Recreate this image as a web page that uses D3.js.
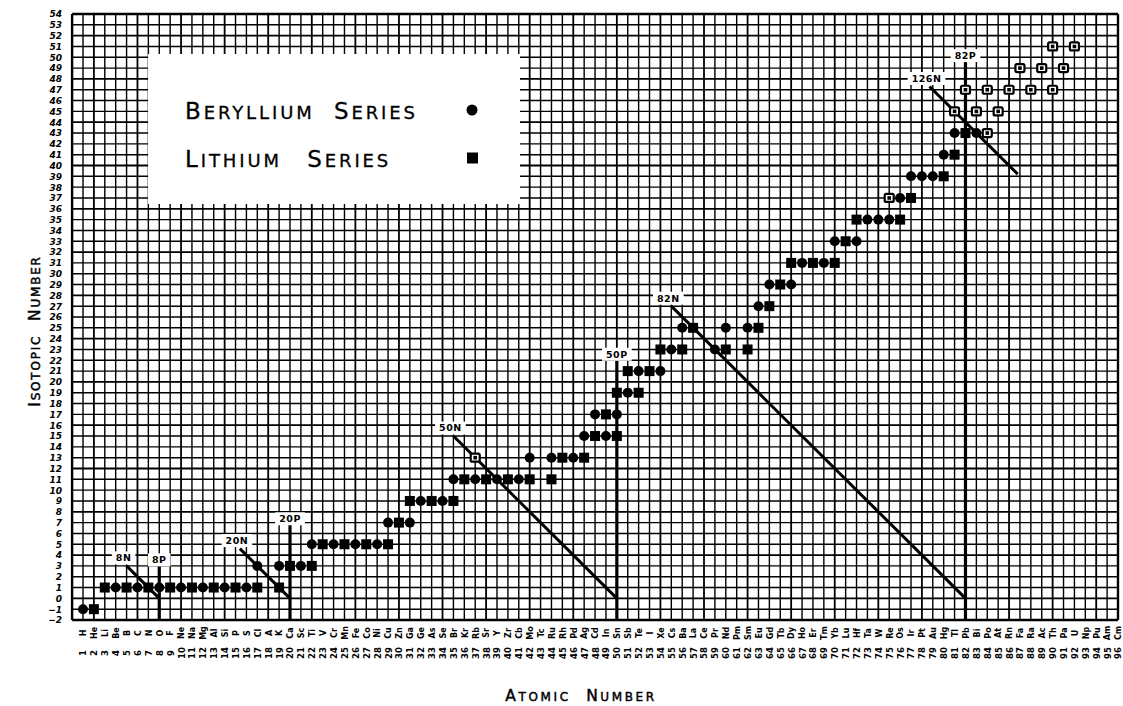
<!DOCTYPE html>
<html>
<head>
<meta charset="utf-8">
<script src="https://cdn.jsdelivr.net/npm/d3@7/dist/d3.min.js"></script>
<style>
  html, body { margin: 0; padding: 0; background: #fff; }
  svg { display: block; }
  .lbl { font-family: "DejaVu Sans", sans-serif; font-weight: bold; }
</style>
</head>
<body>
<svg id="chart" width="1123" height="706"></svg>
<script>
// element symbols, index = atomic number - 1 (as lettered on the sheet)
var elements = ["H","He","Li","Be","B","C","N","O","F","Ne","Na","Mg","Al","Si","P","S","Cl","A","K","Ca",
  "Sc","Ti","V","Cr","Mn","Fe","Co","Ni","Cu","Zn","Ga","Ge","As","Se","Br","Kr","Rb","Sr","Y","Zr",
  "Cb","Mo","Tc","Ru","Rh","Pd","Ag","Cd","In","Sn","Sb","Te","I","Xe","Cs","Ba","La","Ce","Pr","Nd",
  "Pm","Sm","Eu","Gd","Tb","Dy","Ho","Er","Tm","Yb","Lu","Hf","Ta","W","Re","Os","Ir","Pt","Au","Hg",
  "Tl","Pb","Bi","Po","At","Rn","Fa","Ra","Ac","Th","Pa","U","Np","Pu","Am","Cm"];
var atomicTicks = d3.range(1, 97);
var isotopicTicks = d3.range(-2, 55);

// [atomic number, isotopic number]
var berylliumSeries = [[1,-1],[4,1],[6,1],[8,1],[10,1],[12,1],[14,1],[16,1],[17,3],[19,3],[21,3],
  [22,5],[24,5],[26,5],[28,5],[29,7],[31,7],[32,9],[34,9],[35,11],[37,11],[39,11],[41,11],[42,13],
  [44,13],[46,13],[47,15],[49,15],[48,17],[50,17],[51,19],[52,21],[54,21],[55,23],[56,25],[59,23],
  [60,25],[62,25],[63,27],[64,29],[66,29],[67,31],[69,31],[70,33],[72,33],[73,35],[74,35],[75,35],
  [76,37],[77,39],[78,39],[79,39],[80,41],[81,43],[83,43]];
var lithiumSeries = [[2,-1],[3,1],[5,1],[7,1],[9,1],[11,1],[13,1],[15,1],[17,1],[19,1],[20,3],[22,3],
  [23,5],[25,5],[27,5],[29,5],[30,7],[31,9],[33,9],[35,9],[36,11],[38,11],[40,11],[42,11],[44,11],
  [45,13],[47,13],[48,15],[50,15],[49,17],[50,19],[52,19],[51,21],[53,21],[54,23],[56,23],[57,25],
  [60,23],[62,23],[63,25],[64,27],[65,29],[66,31],[68,31],[70,31],[71,33],[72,35],[76,35],[77,37],
  [80,39],[81,41],[82,43]];
var openPoints = [[37,13],[75,37],[84,43],[81,45],[83,45],[85,45],[82,47],[84,47],[86,47],[88,47],
  [90,47],[87,49],[89,49],[91,49],[90,51],[92,51]];

// closed-shell lines: neutron lines run along I = N - Z
var neutronLines = [
  {label:"8N", n:8, z0:5, z1:8},
  {label:"20N", n:20, z0:15.4, z1:20},
  {label:"50N", n:50, z0:35, z1:50},
  {label:"82N", n:82, z0:55, z1:82},
  {label:"126N", n:126, z0:78.7, z1:86.8}
];
var protonLines = [
  {label:"8P", z:8, top:3},
  {label:"20P", z:20, top:6.8},
  {label:"50P", z:50, top:22},
  {label:"82P", z:82, top:49.6}
];

var svg = d3.select("#chart");
var x = d3.scaleLinear().domain([1, 96]).range([83, 1118]);
var y = d3.scaleLinear().domain([-2, 54]).range([620, 14]);

// graph paper
var grid = svg.append("g").attr("stroke", "#000");
grid.selectAll("line.v").data(d3.range(0, 97)).join("line")
  .attr("class", "v")
  .attr("x1", d => x(d)).attr("x2", d => x(d))
  .attr("y1", y(54)).attr("y2", y(-2))
  .attr("stroke-width", d => (d === 0 || d === 96) ? 2.4 : ((d - 2) % 4 === 0 ? 1.8 : 1.4));
grid.selectAll("line.h").data(d3.range(-2, 55)).join("line")
  .attr("class", "h")
  .attr("x1", x(0)).attr("x2", x(96))
  .attr("y1", d => y(d)).attr("y2", d => y(d))
  .attr("stroke-width", d => (d === -2 || d === 54) ? 2.4 : (d % 4 === 0 ? 1.8 : 1.4));

// legend panel over the paper
var legend = svg.append("g");
legend.append("rect").attr("x", 148).attr("y", 54).attr("width", 372).attr("height", 150).attr("fill", "#fff");

function smallCaps(sel, words, big, small) {
  words.forEach(function(w, i) {
    sel.append("tspan").attr("font-size", big).text((i ? " " : "") + w[0]);
    sel.append("tspan").attr("font-size", small).text(w.slice(1));
  });
}
var lt1 = legend.append("text").attr("x", 185).attr("y", 119)
  .attr("font-family", "DejaVu Sans, sans-serif").attr("letter-spacing", 2.9).attr("word-spacing", 9)
  .attr("stroke", "#000").attr("stroke-width", 0.3);
smallCaps(lt1, ["BERYLLIUM", "SERIES"], 23, 18);
var lt2 = legend.append("text").attr("x", 185).attr("y", 167)
  .attr("font-family", "DejaVu Sans, sans-serif").attr("letter-spacing", 2.9).attr("word-spacing", 15)
  .attr("stroke", "#000").attr("stroke-width", 0.3);
smallCaps(lt2, ["LITHIUM", "SERIES"], 23, 18);
legend.append("circle").attr("cx", 472).attr("cy", 110).attr("r", 5.5).attr("fill", "#000");
legend.append("rect").attr("x", 467).attr("y", 152.5).attr("width", 11).attr("height", 11).attr("fill", "#000");

// closed shell lines
var shells = svg.append("g");
shells.selectAll("line.n").data(neutronLines).join("line")
  .attr("x1", d => x(d.z0)).attr("y1", d => y(d.n - d.z0))
  .attr("x2", d => x(d.z1)).attr("y2", d => y(d.n - d.z1))
  .attr("stroke", "#000").attr("stroke-width", 3);
shells.selectAll("line.p").data(protonLines).join("line")
  .attr("x1", d => x(d.z)).attr("x2", d => x(d.z))
  .attr("y1", d => y(d.top)).attr("y2", y(-2))
  .attr("stroke", "#000").attr("stroke-width", 3.2);

// points
var marks = svg.append("g");
marks.selectAll("circle").data(berylliumSeries).join("circle")
  .attr("cx", d => x(d[0])).attr("cy", d => y(d[1])).attr("r", 5).attr("fill", "#000");
marks.selectAll("rect.li").data(lithiumSeries).join("rect")
  .attr("class", "li")
  .attr("x", d => x(d[0]) - 5).attr("y", d => y(d[1]) - 5)
  .attr("width", 10).attr("height", 10).attr("fill", "#000");
var op = marks.selectAll("g.op").data(openPoints).join("g")
  .attr("class", "op")
  .attr("transform", d => `translate(${x(d[0])},${y(d[1])})`);
op.append("rect").attr("x", -4.5).attr("y", -4).attr("width", 9).attr("height", 8).attr("rx", 1.5)
  .attr("fill", "#fff").attr("stroke", "#000").attr("stroke-width", 2.2);
op.append("rect").attr("x", -1.8).attr("y", -1.8).attr("width", 3.6).attr("height", 3.6).attr("fill", "#000");

// shell labels
function shellLabel(d, lx, ly) {
  var g = svg.append("g").attr("transform", `translate(${lx},${ly})`);
  var t = g.append("text").attr("class", "lbl").attr("font-size", 9.5)
    .attr("text-anchor", "middle").attr("dy", "0.36em").attr("letter-spacing", 0.5).text(d.label);
  var w = t.node().getComputedTextLength() + 8;
  g.insert("rect", "text").attr("x", -w / 2).attr("y", -6.5).attr("width", w).attr("height", 13).attr("fill", "#fff");
}
neutronLines.forEach(d => shellLabel(d, x(d.z0) - 3, y(d.n - d.z0) - 8));
protonLines.forEach(d => shellLabel(d, x(d.z), y(d.top) - 6));

// y axis: isotopic number
var yAxis = svg.append("g").attr("transform", `translate(${x(0) - 7},0)`)
  .call(d3.axisLeft(y).tickValues(isotopicTicks).tickSize(0).tickPadding(3));
yAxis.select(".domain").remove();
yAxis.selectAll("text").attr("font-family", "DejaVu Sans, sans-serif").attr("font-weight", "bold")
  .attr("font-style", "italic").attr("font-size", 9).attr("fill", "#000");

// x axis: element symbols and atomic numbers, written upward
var symAxis = svg.append("g").attr("transform", `translate(0,${y(-2)})`)
  .call(d3.axisBottom(x).tickValues(atomicTicks).tickSize(0).tickFormat(d => elements[d - 1]));
symAxis.select(".domain").remove();
symAxis.selectAll("text")
  .attr("y", null).attr("dy", "0.35em").attr("x", 0)
  .attr("transform", "translate(0,13) rotate(-90)")
  .attr("text-anchor", "middle")
  .attr("font-family", "DejaVu Sans, sans-serif").attr("font-weight", "bold").attr("font-size", 8).attr("fill", "#000");
var numAxis = svg.append("g").attr("transform", `translate(0,${y(-2)})`)
  .call(d3.axisBottom(x).tickValues(atomicTicks).tickSize(0));
numAxis.select(".domain").remove();
numAxis.selectAll("text")
  .attr("y", null).attr("dy", "0.35em").attr("x", 0)
  .attr("transform", "translate(0,33) rotate(-90)")
  .attr("text-anchor", "middle")
  .attr("font-family", "DejaVu Sans, sans-serif").attr("font-weight", "bold").attr("font-size", 8.5).attr("fill", "#000");

// axis titles
var xt = svg.append("text").attr("x", 581).attr("y", 701).attr("text-anchor", "middle")
  .attr("font-family", "DejaVu Sans, sans-serif").attr("letter-spacing", 2.6).attr("word-spacing", 8)
  .attr("stroke", "#000").attr("stroke-width", 0.45);
smallCaps(xt, ["ATOMIC", "NUMBER"], 15.5, 12);
var yt = svg.append("text").attr("transform", "translate(40,331) rotate(-90)").attr("text-anchor", "middle")
  .attr("font-family", "DejaVu Sans, sans-serif").attr("letter-spacing", 1.8).attr("word-spacing", 7)
  .attr("stroke", "#000").attr("stroke-width", 0.45);
smallCaps(yt, ["ISOTOPIC", "NUMBER"], 15.5, 12);
</script>
</body>
</html>
